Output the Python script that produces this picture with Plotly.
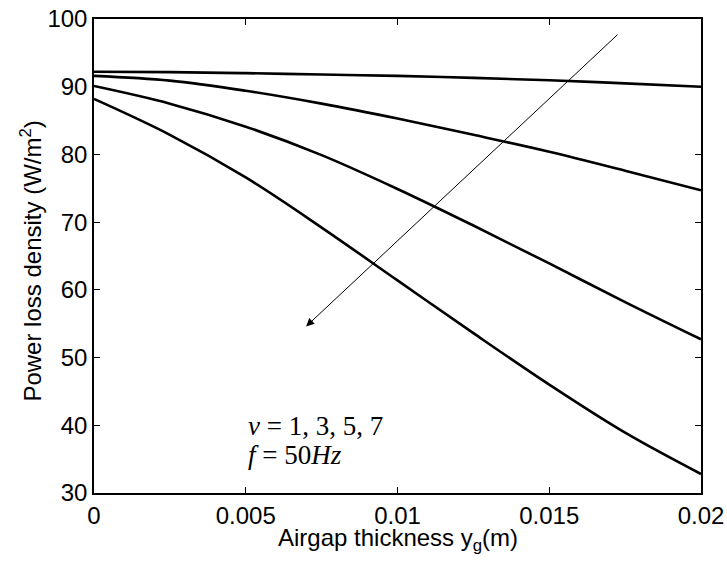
import plotly.graph_objects as go

airgap = [0, 0.0025, 0.005, 0.0075, 0.01, 0.0125, 0.015, 0.0175, 0.02]
loss_nu1 = [92.2, 92.15, 92.0, 91.8, 91.6, 91.3, 90.95, 90.5, 90.0]
loss_nu3 = [91.6, 90.9, 89.4, 87.5, 85.3, 82.9, 80.4, 77.6, 74.7]
loss_nu5 = [90.1, 87.5, 84.1, 79.9, 74.9, 69.5, 63.9, 58.2, 52.7]
loss_nu7 = [88.2, 82.9, 76.6, 69.2, 61.4, 53.6, 46.0, 38.9, 32.8]
series = [loss_nu1, loss_nu3, loss_nu5, loss_nu7]

arrow_tail = (0.0173, 97.9)
arrow_head = (0.00699, 54.6)

x_ticks = [0, 0.005, 0.01, 0.015, 0.02]
x_ticklabels = ["0", "0.005", "0.01", "0.015", "0.02"]
y_ticks = [30, 40, 50, 60, 70, 80, 90, 100]

fig = go.Figure()
for ys in series:
    fig.add_trace(go.Scatter(x=airgap, y=ys, mode="lines",
                             line=dict(color="black", width=2.6, shape="spline", smoothing=1.0),
                             showlegend=False, hoverinfo="skip"))

fig.add_annotation(x=arrow_head[0], y=arrow_head[1], ax=arrow_tail[0], ay=arrow_tail[1],
                   xref="x", yref="y", axref="x", ayref="y", text="",
                   showarrow=True, arrowhead=2, arrowsize=1.6, arrowwidth=1, arrowcolor="black")

serif = "Liberation Serif"
fig.add_annotation(x=0.00502, y=39.9, xref="x", yref="y", xanchor="left", yanchor="middle",
                   text="<i>ν</i>&nbsp;=&nbsp;1,&nbsp;3,&nbsp;5,&nbsp;7", showarrow=False,
                   font=dict(family=serif, size=27, color="black"))
fig.add_annotation(x=0.00502, y=35.6, xref="x", yref="y", xanchor="left", yanchor="middle",
                   text="<i>f</i>&nbsp;=&nbsp;50<i>Hz</i>", showarrow=False,
                   font=dict(family=serif, size=27, color="black"))

sans = "Liberation Sans"
tickfont = dict(family=sans, size=24, color="black")
axis_common = dict(showline=True, linecolor="black", linewidth=1.5, mirror="ticks",
                   ticks="inside", ticklen=6, tickwidth=1, tickcolor="black",
                   showgrid=False, zeroline=False, tickfont=tickfont, automargin=False)

fig.update_xaxes(range=[0, 0.02], tickvals=x_ticks, ticktext=x_ticklabels, **axis_common)
fig.update_yaxes(range=[30, 100], tickvals=y_ticks, **axis_common)

fig.add_annotation(x=0.5, y=-0.062, xref="paper", yref="paper", xanchor="center", yanchor="top",
                   text="Airgap thickness y<sub>g</sub>(m)", showarrow=False,
                   font=dict(family=sans, size=24, color="black"))
fig.add_annotation(x=-0.104, y=0.49, xref="paper", yref="paper", xanchor="center", yanchor="middle",
                   textangle=-90, text="Power loss density (W/m<sup>2</sup>)", showarrow=False,
                   font=dict(family=sans, size=24, color="black"))

fig.update_layout(width=727, height=562, margin=dict(l=94, r=26, t=19, b=69),
                  paper_bgcolor="white", plot_bgcolor="white")

fig.write_html("out.html")
